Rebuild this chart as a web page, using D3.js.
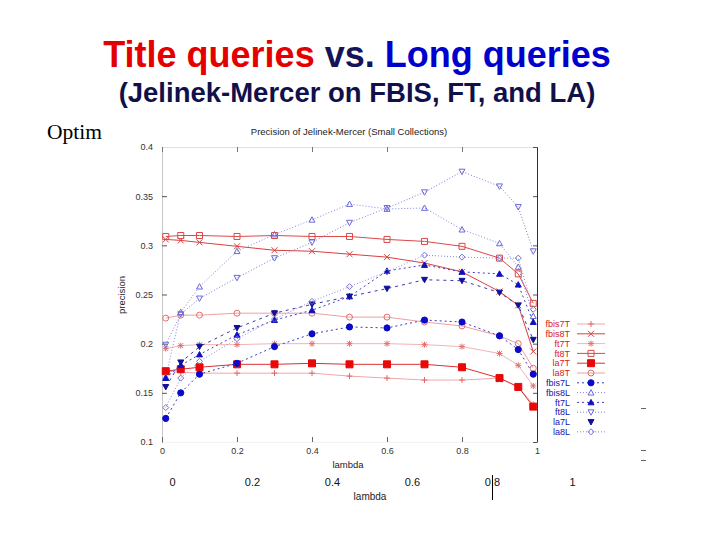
<!DOCTYPE html>
<html><head><meta charset="utf-8">
<script src="https://cdn.jsdelivr.net/npm/d3@7"></script>
<style>body{margin:0;background:#fff;} svg{display:block;}</style>
</head><body>
<svg id="c" width="720" height="540"></svg>
<script>
// ---- data ----
const lambdas = [0.01, 0.05, 0.1, 0.2, 0.3, 0.4, 0.5, 0.6, 0.7, 0.8, 0.9, 0.95, 0.99];
const fbis7T = [0.172, 0.171, 0.170, 0.170, 0.170, 0.170, 0.167, 0.165, 0.163, 0.163, 0.165, 0.156, 0.138];
const fbis8T = [0.306, 0.305, 0.303, 0.299, 0.295, 0.294, 0.291, 0.288, 0.282, 0.273, 0.253, 0.239, 0.192];
const ft7T   = [0.195, 0.198, 0.199, 0.199, 0.200, 0.200, 0.200, 0.200, 0.199, 0.197, 0.190, 0.178, 0.157];
const ft8T   = [0.309, 0.310, 0.310, 0.309, 0.310, 0.309, 0.309, 0.306, 0.304, 0.299, 0.287, 0.271, 0.241];
const la7T   = [0.172, 0.174, 0.176, 0.179, 0.179, 0.180, 0.179, 0.179, 0.179, 0.176, 0.165, 0.156, 0.136];
const la8T   = [0.226, 0.229, 0.229, 0.231, 0.231, 0.231, 0.227, 0.227, 0.222, 0.218, 0.208, 0.200, 0.175];
const fbis7L = [0.124, 0.150, 0.169, 0.180, 0.197, 0.210, 0.217, 0.216, 0.224, 0.222, 0.208, 0.194, 0.169];
const fbis8L = [0.166, 0.232, 0.258, 0.294, 0.311, 0.326, 0.342, 0.337, 0.338, 0.316, 0.302, 0.278, 0.228];
const ft7L   = [0.165, 0.178, 0.189, 0.209, 0.224, 0.234, 0.248, 0.274, 0.280, 0.273, 0.271, 0.260, 0.222];
const ft8L   = [0.199, 0.230, 0.246, 0.267, 0.287, 0.303, 0.323, 0.338, 0.354, 0.375, 0.360, 0.339, 0.294];
const la7L   = [0.156, 0.181, 0.197, 0.216, 0.231, 0.240, 0.248, 0.256, 0.265, 0.264, 0.252, 0.239, 0.204];
const la8L   = [0.135, 0.165, 0.182, 0.205, 0.225, 0.243, 0.258, 0.273, 0.290, 0.288, 0.287, 0.287, 0.235];

const seriesNames = ["fbis7T","fbis8T","ft7T","ft8T","la7T","la8T","fbis7L","fbis8L","ft7L","ft8L","la7L","la8L"];
const seriesValues = [fbis7T, fbis8T, ft7T, ft8T, la7T, la8T, fbis7L, fbis8L, ft7L, ft8L, la7L, la8L];

const yTicks = [0.1, 0.15, 0.2, 0.25, 0.3, 0.35, 0.4];
const yTickLabels = ["0.1", "0.15", "0.2", "0.25", "0.3", "0.35", "0.4"];
const xTicks = [0, 0.2, 0.4, 0.6, 0.8, 1];
const xTickLabels = ["0", "0.2", "0.4", "0.6", "0.8", "1"];

// ---- styles ----
const styles = {
  fbis7T: {line:"#f3a6a6", mk:"#e06868", shape:"plus",  dash:null},
  fbis8T: {line:"#d94040", mk:"#d94040", shape:"cross", dash:null},
  ft7T:   {line:"#f2b4b4", mk:"#e07070", shape:"star",  dash:null},
  ft8T:   {line:"#dc4848", mk:"#dc4848", shape:"square", dash:null},
  la7T:   {line:"#db3030", mk:"#e80808", shape:"squareF", dash:null},
  la8T:   {line:"#efa0a0", mk:"#e07070", shape:"circle", dash:null},
  fbis7L: {line:"#3a3ac8", mk:"#0a0ac8", shape:"circleF", dash:"2,3"},
  fbis8L: {line:"#8686e0", mk:"#6a6ad8", shape:"tri", dash:"1,2"},
  ft7L:   {line:"#4040c4", mk:"#1010c0", shape:"triF", dash:"2,3"},
  ft8L:   {line:"#7a7ad8", mk:"#6a6ad8", shape:"triD", dash:"1,2"},
  la7L:   {line:"#3a3aa8", mk:"#101098", shape:"triDF", dash:"3,4", noLegendLine:true},
  la8L:   {line:"#8c8ce0", mk:"#7070d8", shape:"diamond", dash:"1,2"}
};

const svg = d3.select("#c");
const x = d3.scaleLinear().domain([0, 1]).range([162, 537]);
const y = d3.scaleLinear().domain([0.1, 0.4]).range([442, 147]);
const x2 = d3.scaleLinear().domain([0, 1]).range([172, 572]);

// ---- slide titles ----
const t = svg.append("text").attr("x", 357).attr("y", 67).attr("text-anchor", "middle")
  .style("font-family", "Arial, 'Liberation Sans', sans-serif").style("font-weight", "bold").style("font-size", "36px");
t.append("tspan").attr("fill", "#e40000").text("Title queries");
t.append("tspan").attr("fill", "#14145a").text(" vs. ");
t.append("tspan").attr("fill", "#0000cc").text("Long queries");

svg.append("text").attr("x", 357).attr("y", 102).attr("text-anchor", "middle")
  .style("font-family", "Arial, 'Liberation Sans', sans-serif").style("font-weight", "bold").style("font-size", "27.5px")
  .attr("fill", "#10104a").text("(Jelinek-Mercer on FBIS, FT, and LA)");

svg.append("text").attr("x", 47).attr("y", 139)
  .style("font-family", "'Liberation Serif', 'Times New Roman', serif").style("font-size", "21.5px")
  .attr("fill", "#000").text("Optim");

// ---- chart frame ----
const small = "Arial, 'Liberation Sans', sans-serif";
svg.append("text").attr("x", 349).attr("y", 135).attr("text-anchor", "middle")
  .style("font-family", small).style("font-size", "9.5px").attr("fill", "#222")
  .text("Precision of Jelinek-Mercer (Small Collections)");

const gl = svg.append("g").attr("transform", "translate(162,0)")
  .call(d3.axisLeft(y).tickValues(yTicks).tickFormat((d, i) => yTickLabels[i]).tickSize(-5).tickSizeOuter(0).tickPadding(9));
gl.select(".domain").attr("stroke", "#c8c8c8");
gl.selectAll(".tick line").attr("stroke", "#555");
gl.selectAll(".tick text").style("font-family", small).style("font-size", "9px").attr("fill", "#333");

const gb = svg.append("g").attr("transform", "translate(0,442)")
  .call(d3.axisBottom(x).tickValues(xTicks).tickFormat((d, i) => xTickLabels[i]).tickSize(-5).tickSizeOuter(0).tickPadding(6));
gb.select(".domain").attr("stroke", "#f2f2f2");
gb.selectAll(".tick line").attr("stroke", "#666");
gb.selectAll(".tick text").style("font-family", small).style("font-size", "9px").attr("fill", "#333");

const gt = svg.append("g").attr("transform", "translate(0,147)")
  .call(d3.axisTop(x).tickValues(xTicks).tickFormat("").tickSize(-5).tickSizeOuter(0));
gt.select(".domain").attr("stroke", "#e0e0e0");
gt.selectAll(".tick line").attr("stroke", "#777");

const gr = svg.append("g").attr("transform", "translate(537,0)")
  .call(d3.axisRight(y).tickValues(yTicks).tickFormat("").tickSize(-4).tickSizeOuter(0));
gr.select(".domain").attr("stroke", "#333");
gr.selectAll(".tick line").attr("stroke", "#555");

svg.append("text").attr("x", 348).attr("y", 468).attr("text-anchor", "middle")
  .style("font-family", small).style("font-size", "9.5px").attr("fill", "#222").text("lambda");
svg.append("text").attr("transform", "translate(125,295) rotate(-90)").attr("text-anchor", "middle")
  .style("font-family", small).style("font-size", "9.5px").attr("fill", "#222").text("precision");

// ---- markers ----
function marker(g, shape, color, cx, cy) {
  const s = 3;
  const p = (d, fill) => g.append("path").attr("d", d).attr("transform", `translate(${cx},${cy})`)
    .attr("fill", fill ? color : "none").attr("stroke", color).attr("stroke-width", 1);
  switch (shape) {
    case "plus": p(`M${-s},0H${s}M0,${-s}V${s}`); break;
    case "cross": p(`M${-s},${-s}L${s},${s}M${-s},${s}L${s},${-s}`); break;
    case "star": p(`M${-s},0H${s}M0,${-s}V${s}M${-s*0.8},${-s*0.8}L${s*0.8},${s*0.8}M${-s*0.8},${s*0.8}L${s*0.8},${-s*0.8}`); break;
    case "square": p(`M${-s},${-s}H${s}V${s}H${-s}Z`); break;
    case "squareF": p(`M${-s-0.5},${-s-0.5}H${s+0.5}V${s+0.5}H${-s-0.5}Z`, true); break;
    case "circle": p(d3.symbol(d3.symbolCircle, 28)()); break;
    case "circleF": p(d3.symbol(d3.symbolCircle, 30)(), true); break;
    case "tri": p(`M0,${-s}L${s},${s*0.8}H${-s}Z`); break;
    case "triF": p(`M0,${-s}L${s},${s*0.8}H${-s}Z`, true); break;
    case "triD": p(`M0,${s}L${s},${-s*0.8}H${-s}Z`); break;
    case "triDF": p(`M0,${s}L${s},${-s*0.8}H${-s}Z`, true); break;
    case "diamond": p(`M0,${-s}L${s},0L0,${s}L${-s},0Z`); break;
  }
}

// ---- series ----
const line = d3.line().x(d => x(d[0])).y(d => y(d[1]));
const plot = svg.append("g");
seriesNames.forEach((name, k) => {
  const st = styles[name];
  const pts = lambdas.map((l, i) => [l, seriesValues[k][i]]);
  plot.append("path").datum(pts).attr("d", line).attr("fill", "none")
    .attr("stroke", st.line).attr("stroke-width", 1)
    .attr("stroke-dasharray", st.dash);
});
seriesNames.forEach((name, k) => {
  const st = styles[name];
  lambdas.forEach((l, i) => marker(plot, st.shape, st.mk, x(l), y(seriesValues[k][i])));
});

// ---- legend ----
const lg = svg.append("g");
seriesNames.forEach((name, k) => {
  const st = styles[name];
  const ly = 324 + k * 9.8;
  const isT = name.endsWith("T");
  lg.append("text").attr("x", 570).attr("y", ly).attr("dy", "0.35em").attr("text-anchor", "end")
    .style("font-family", small).style("font-size", "9px")
    .attr("fill", isT ? "#d82020" : "#1414b0").text(name);
  if (!st.noLegendLine) {
    lg.append("line").attr("x1", 577).attr("x2", 605).attr("y1", ly).attr("y2", ly)
      .attr("stroke", st.line).attr("stroke-width", 1).attr("stroke-dasharray", st.dash);
  }
  marker(lg, st.shape, st.mk, 591, ly);
});

// ---- second (slide) axis ----
const g2 = svg.append("g").attr("transform", "translate(0,476)")
  .call(d3.axisBottom(x2).tickValues(xTicks).tickFormat((d, i) => xTickLabels[i]).tickSize(0).tickPadding(2));
g2.select(".domain").remove();
g2.selectAll(".tick text").style("font-family", small).style("font-size", "11px").attr("fill", "#111");
svg.append("text").attr("x", 370).attr("y", 500).attr("text-anchor", "middle")
  .style("font-family", small).style("font-size", "10px").attr("fill", "#222").text("lambda");
svg.append("line").attr("x1", 492.5).attr("x2", 492.5).attr("y1", 475).attr("y2", 500)
  .attr("stroke", "#000").attr("stroke-width", 1);

// small stray marks at right
[408.5, 450.5, 460.5].forEach(v => svg.append("line").attr("x1", 641).attr("x2", 646).attr("y1", v).attr("y2", v)
  .attr("stroke", "#666").attr("stroke-width", 1));
</script>
</body></html>
